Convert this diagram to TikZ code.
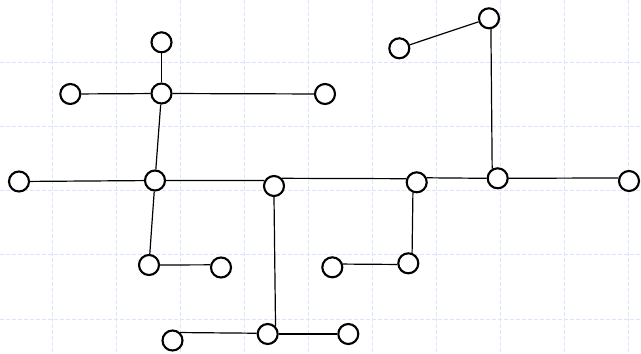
\documentclass[tikz,border=0pt]{standalone}
\begin{document}
\begin{tikzpicture}[x=0.75pt,y=-0.75pt,
  vtx/.style={circle,draw=black,line width=1.6pt,fill=white,inner sep=0pt,minimum size=15pt},
  edge/.style={draw=black,line width=0.9pt},
  gridline/.style={draw={rgb,255:red,218;green,227;blue,255},line width=0.75pt,dash pattern=on 3pt off 1.5pt}]
\useasboundingbox (0,0) rectangle (641,353);
\fill[white] (0,0) rectangle (641,353);
\foreach \gx in {52.3,116.3,180.3,244.3,308.3,372.3,436.3,500.3,564.3,628.3}
  \draw[gridline] (\gx,0) -- (\gx,353);
\foreach \gy in {-1.3,62.7,126.8,190.9,254.9,319}
  \draw[gridline] (0,\gy) -- (641,\gy);
% nodes
\node[vtx] (n1) at (161.5,42.3) {};
\node[vtx] (n2) at (70.3,94) {};
\node[vtx] (n3) at (161.5,93.5) {};
\node[vtx] (n4) at (325,94) {};
\node[vtx] (n5) at (19,181.5) {};
\node[vtx] (n6) at (155,180.5) {};
\node[vtx] (n7) at (274,186) {};
\node[vtx] (n8) at (416.7,182.3) {};
\node[vtx] (n9) at (497.7,178.3) {};
\node[vtx] (n10) at (629,181) {};
\node[vtx] (n11) at (399.3,48.3) {};
\node[vtx] (n12) at (489,18.3) {};
\node[vtx] (n13) at (149,265) {};
\node[vtx] (n14) at (221,267.5) {};
\node[vtx] (n15) at (332.3,267.3) {};
\node[vtx] (n16) at (408.3,263.3) {};
\node[vtx] (n17) at (172.5,340.5) {};
\node[vtx] (n18) at (267.7,334) {};
\node[vtx] (n19) at (348.3,334) {};
% edges
\draw[edge] (n1) -- (n3);
\draw[edge] (n2) -- (n3);
\draw[edge] (n3) -- (n4);
\draw[edge] (n3) -- (n6);
\draw[edge] (n5) -- (n6);
\draw[edge] (n6.east) -- (n7.150);
\draw[edge] (n7.44) -- (n8.161);
\draw[edge] (n8.24) -- (n9.west);
\draw[edge] (n9.east) -- (n10.164);
\draw[edge] (n12.-80) -- (n9.120);
\draw[edge] (n11) -- (n12);
\draw[edge] (n6) -- (n13);
\draw[edge] (n13.east) -- (n14.166);
\draw[edge] (n8.250) -- (n16.70);
\draw[edge] (n15.17) -- (n16.186);
\draw[edge] (n7.south) -- (n18.45);
\draw[edge] (n17.46) -- (n18.176);
\draw[edge] (n18) -- (n19);
\end{tikzpicture}
\end{document}
